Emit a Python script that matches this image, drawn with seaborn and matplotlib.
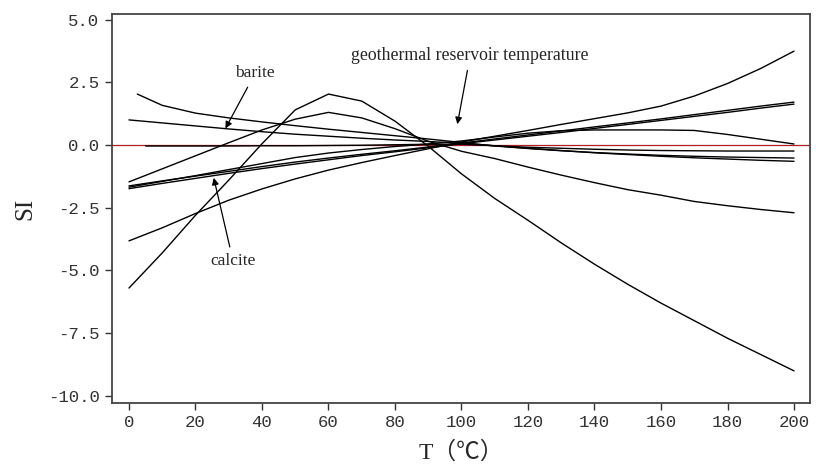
import numpy as np
import pandas as pd
import matplotlib
matplotlib.use("Agg")
import matplotlib.pyplot as plt
import seaborn as sns

# ---- data ----
T = [0, 10, 20, 30, 40, 50, 60, 70, 80, 90, 100, 110, 120, 130, 140, 150, 160, 170, 180, 190, 200]
T_a = [2.5, 10, 20, 30, 40, 50, 60, 70, 80, 90, 100, 110, 120, 130, 140, 150, 160, 170, 180, 190, 200]
T_g = [5, 10, 20, 30, 40, 50, 60, 70, 80, 90, 100, 110, 120, 130, 140, 150, 160, 170, 180, 190, 200]

si_a = [2.03, 1.58, 1.27, 1.08, 0.92, 0.77, 0.63, 0.50, 0.37, 0.24, 0.10, -0.04, -0.14, -0.23, -0.30, -0.36, -0.41, -0.45, -0.48, -0.50, -0.52]
si_b = [1.00, 0.88, 0.76, 0.64, 0.53, 0.43, 0.35, 0.27, 0.20, 0.14, 0.07, -0.03, -0.13, -0.22, -0.31, -0.38, -0.45, -0.51, -0.56, -0.61, -0.65]
si_c = [-1.47, -0.95, -0.43, 0.09, 0.60, 1.03, 1.30, 1.08, 0.65, 0.15, -0.25, -0.54, -0.88, -1.20, -1.50, -1.78, -2.00, -2.25, -2.42, -2.57, -2.70]
si_d1 = [-1.63, -1.43, -1.24, -1.05, -0.86, -0.68, -0.52, -0.37, -0.23, -0.08, 0.08, 0.24, 0.40, 0.56, 0.72, 0.88, 1.04, 1.21, 1.38, 1.55, 1.71]
si_d2 = [-1.74, -1.53, -1.33, -1.13, -0.94, -0.76, -0.59, -0.42, -0.27, -0.11, 0.05, 0.20, 0.35, 0.50, 0.66, 0.82, 0.98, 1.14, 1.30, 1.47, 1.63]
si_e = [-3.82, -3.30, -2.73, -2.20, -1.75, -1.35, -1.00, -0.70, -0.42, -0.15, 0.12, 0.35, 0.58, 0.82, 1.05, 1.28, 1.55, 1.95, 2.45, 3.05, 3.74]
si_f = [-5.70, -4.30, -2.80, -1.40, 0.05, 1.40, 2.03, 1.75, 0.95, -0.05, -1.15, -2.13, -3.00, -3.90, -4.75, -5.55, -6.30, -7.00, -7.70, -8.35, -9.00]
si_g = [-0.04, -0.04, -0.04, -0.04, -0.03, -0.03, -0.02, -0.01, 0.01, 0.03, 0.03, -0.03, -0.09, -0.13, -0.17, -0.20, -0.22, -0.23, -0.24, -0.24, -0.24]
si_h = [-1.68, -1.45, -1.22, -0.98, -0.74, -0.50, -0.32, -0.18, -0.06, 0.04, 0.16, 0.32, 0.47, 0.57, 0.60, 0.60, 0.60, 0.58, 0.42, 0.23, 0.04]

x_ticks = [0, 20, 40, 60, 80, 100, 120, 140, 160, 180, 200]
y_ticks = [-10.0, -7.5, -5.0, -2.5, 0.0, 2.5, 5.0]

curves = {
    "a": (T_a, si_a), "b": (T, si_b), "c": (T, si_c), "d1": (T, si_d1),
    "d2": (T, si_d2), "e": (T, si_e), "f": (T, si_f), "g": (T_g, si_g), "h": (T, si_h),
}
frames = [pd.DataFrame({"T": xs, "SI": ys, "curve": name}) for name, (xs, ys) in curves.items()]
df = pd.concat(frames, ignore_index=True)

# ---- plot ----
sns.set_style("ticks")
plt.rcParams["axes.unicode_minus"] = False

fig = plt.figure(figsize=(8.16, 4.70), dpi=100)
ax = fig.add_axes([0.1373, 0.1426, 0.8553, 0.8276])

ax.axhline(0, color="#b02020", lw=0.9, zorder=1)
sns.lineplot(data=df, x="T", y="SI", hue="curve", palette=["black"] * len(curves),
             legend=False, ax=ax, lw=1.0, sort=False, estimator=None, zorder=2)

ax.set_xlim(-5.1, 204.8)
ax.set_ylim(-10.28, 5.22)
ax.set_xticks(x_ticks)
ax.set_yticks(y_ticks)
ax.set_xticklabels([str(v) for v in x_ticks], family="Liberation Mono", fontsize=12.5)
ax.set_yticklabels([f"{v:.1f}" for v in y_ticks], family="Liberation Mono", fontsize=12.5)
ax.tick_params(direction="out", length=5, width=1.0, colors="#333333", pad=4)
for s in ax.spines.values():
    s.set_color("#444444")
    s.set_linewidth(1.3)

ax.set_xlabel("T（℃）", family=["Liberation Serif", "Noto Sans CJK SC"], fontsize=17, labelpad=8)
ax.set_ylabel("SI", family="Liberation Serif", fontsize=18, labelpad=8)

ann = dict(arrowstyle="-|>", color="black", lw=0.9, mutation_scale=10)
ax.annotate("barite", xy=(28.6, 0.56), xytext=(37.9, 2.85), ha="center", va="center",
            family="Liberation Serif", fontsize=12.5, arrowprops=ann)
ax.annotate("geothermal reservoir temperature", xy=(98.6, 0.72), xytext=(102.6, 3.55),
            ha="center", va="center", family="Liberation Serif", fontsize=12.8, arrowprops=ann)
ax.annotate("calcite", xy=(25.3, -1.2), xytext=(31.3, -4.62), ha="center", va="center",
            family="Liberation Serif", fontsize=12.5, arrowprops=ann)

fig.savefig("out.png", dpi=100)
